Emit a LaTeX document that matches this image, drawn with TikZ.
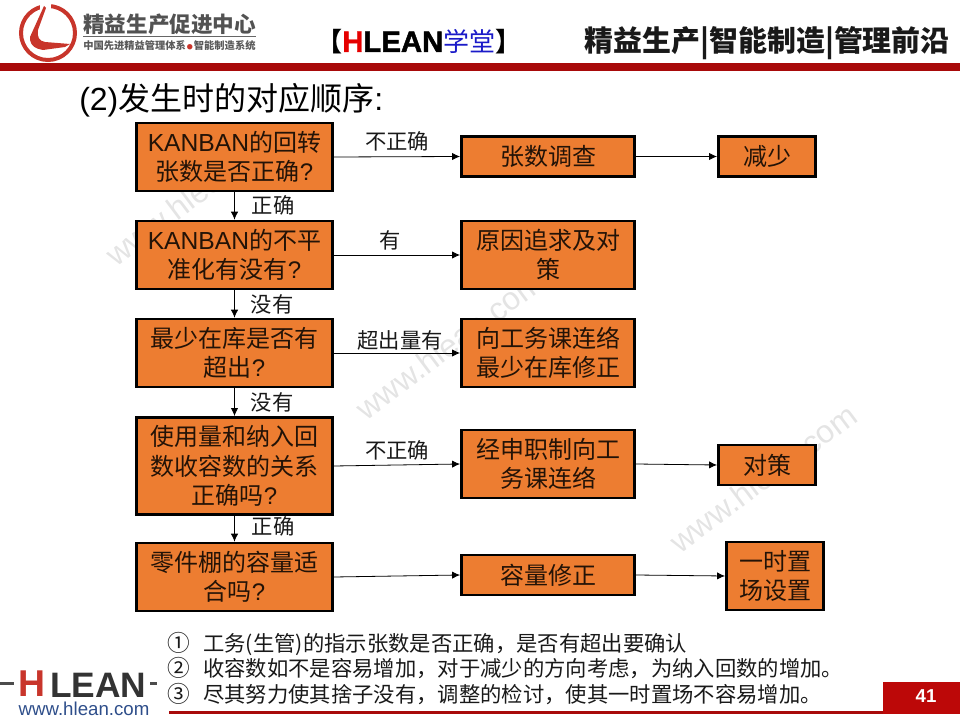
\documentclass[tikz,border=0pt]{standalone}
\usepackage{fontspec}
\setmainfont{Liberation Sans}
\newfontfamily\cjk{Noto Sans CJK SC}
\newfontfamily\heavy[BoldFeatures={FakeBold=1.5}]{Liberation Sans}
\usetikzlibrary{arrows.meta}
\definecolor{boxfill}{HTML}{ED7D31}
\definecolor{barred}{HTML}{A80A0A}
\definecolor{pagered}{HTML}{BC0808}
\definecolor{logored}{HTML}{C8352B}
\definecolor{wm}{HTML}{E4E4E4}
\definecolor{bluetxt}{HTML}{1A1AC8}
\definecolor{webblue}{HTML}{2E4E8A}
\newcommand{\kb}{{\fontsize{18.5}{22}\selectfont KANBAN}}
\newcommand{\circno}[1]{\makebox[27pt][l]{\fontsize{17}{18}\selectfont #1}}
\tikzset{
  flowbox/.style={draw=black,line width=1.9pt,fill=boxfill,minimum width=147pt,align=center,inner sep=0pt,font=\fontsize{18}{22}\selectfont,text=black!85!boxfill},
  flowside/.style={draw=black,line width=1.9pt,fill=boxfill,align=center,inner sep=0pt,font=\fontsize{18}{22}\selectfont,text=black!85!boxfill},
  link/.style={draw=black,line width=0.6pt,-{Latex[length=6pt,width=5.5pt]}},
  lbl/.style={inner sep=0pt,font=\cjk\fontsize{16}{18}\selectfont,text=black!90},
  note/.style={inner sep=0pt,anchor=west,font=\cjk\fontsize{16}{18}\selectfont,text=black!90},
  wmk/.style={inner sep=0pt,rotate=36.8,text=wm,font=\fontsize{24}{28}\selectfont}
}
\begin{document}
\begin{tikzpicture}[x=0.75pt,y=-0.75pt]
\useasboundingbox (0,0) rectangle (960,720);
% watermarks
\node[wmk] (wa) at (199,191) {www.hlean.com};
\node[wmk] (wb) at (449,345) {www.hlean.com};
\node[wmk] (wc) at (763,478) {www.hlean.com};
% header
\fill[barred] (0,63) rectangle (960,71);
\node[inner sep=0pt,anchor=west,font=\cjk\bfseries\fontsize{16.2}{18}\selectfont,text=black!68] (brand) at (83,24) {精益生产促进中心};
\draw[black!60,line width=0.5pt] (83,36) -- (256,36);
\node[inner sep=0pt,anchor=west,font=\cjk\bfseries\fontsize{7.7}{9}\selectfont,text=black!65] (slogan) at (83,46) {中国先进精益管理体系{\color{logored}\fontsize{4.5}{5}\selectfont\,●\,}智能制造系统};
\draw[logored,line width=3pt] (48,33) circle (27);
\fill[white] (40,0) rectangle (51,10);
\fill[logored] (44,6) -- (46,8) -- (38,30) .. controls (37,37) and (39,41) .. (45,42) -- (70,44) -- (65,47) -- (43,50) .. controls (36,49) and (31,46) .. (30,40) -- (30,37) -- cycle;
\node[inner sep=0pt,anchor=west,font=\cjk\bfseries\fontsize{19.5}{22}\selectfont] (hl) at (316,42) {【{\heavy\bfseries\fontsize{22}{22}\selectfont\textcolor{red!90!black}{H}LEAN}\textcolor{bluetxt}{\mdseries 学堂}】};
\node[inner sep=0pt,anchor=east,font=\cjk\bfseries\fontsize{21.7}{24}\selectfont,text=black!90] (tag) at (950,43) {精益生产|智能制造|管理前沿};
\node[inner sep=0pt,anchor=west,font=\fontsize{24}{28}\selectfont] (title) at (79,100) {(2){\cjk 发生时的对应顺序}:};
% left column
\node[flowbox,minimum height=51pt] (a1) at (234.5,157) {\kb{\cjk 的回转}\\{\cjk 张数是否正确}?};
\node[flowbox,minimum height=51pt] (a2) at (234.5,255) {\kb{\cjk 的不平}\\{\cjk 准化有没有}?};
\node[flowbox,minimum height=51pt] (a3) at (234.5,353) {{\cjk 最少在库是否有}\\{\cjk 超出}?};
\node[flowbox,minimum height=73pt] (a4) at (234.5,466) {{\cjk 使用量和纳入回}\\{\cjk 数收容数的关系}\\{\cjk 正确吗}?};
\node[flowbox,minimum height=51pt] (a5) at (234.5,577) {{\cjk 零件棚的容量适}\\{\cjk 合吗}?};
% middle column
\node[flowside,minimum width=130pt,minimum height=30pt] (b1) at (548,156.5) {\cjk 张数调查};
\node[flowside,minimum width=130pt,minimum height=51pt] (b2) at (548,255) {\cjk 原因追求及对\\\cjk 策};
\node[flowside,minimum width=130pt,minimum height=51pt] (b3) at (548,353) {\cjk 向工务课连络\\\cjk 最少在库修正};
\node[flowside,minimum width=130pt,minimum height=51pt] (b4) at (548,464) {\cjk 经申职制向工\\\cjk 务课连络};
\node[flowside,minimum width=130pt,minimum height=30pt] (b5) at (548,575) {\cjk 容量修正};
% right column
\node[flowside,minimum width=73pt,minimum height=30pt] (c1) at (767,156.5) {\cjk 减少};
\node[flowside,minimum width=73pt,minimum height=30pt] (c4) at (767,465) {\cjk 对策};
\node[flowside,minimum width=73pt,minimum height=51pt] (c5) at (775,576) {\cjk 一时置\\\cjk 场设置};
% connectors
\draw[link] (a1.south) -- (a2.north);
\draw[link] (a2.south) -- (a3.north);
\draw[link] (a3.south) -- (a4.north);
\draw[link] (a4.south) -- (a5.north);
\draw[link] (a1.east) -- (b1.west);
\draw[link] (a2.east) -- (b2.west);
\draw[link] (a3.east) -- (b3.west);
\draw[link] (a4.east) -- (b4.west);
\draw[link] (a5.east) -- (b5.west);
\draw[link] (b1.east) -- (c1.west);
\draw[link] (b4.east) -- (c4.west);
\draw[link] (b5.east) -- (c5.west);
% labels
\node[lbl] (l1) at (397,141) {不正确};
\node[lbl] (l2) at (273,205) {正确};
\node[lbl] (l3) at (390,240) {有};
\node[lbl] (l4) at (272,304) {没有};
\node[lbl] (l5) at (400,340) {超出量有};
\node[lbl] (l6) at (272,402) {没有};
\node[lbl] (l7) at (397,450) {不正确};
\node[lbl] (l8) at (273,526) {正确};
% notes
\node[note] (n1) at (167,643.5) {\circno{①}工务(生管)的指示张数是否正确，是否有超出要确认};
\node[note] (n2) at (167,668) {\circno{②}收容数如不是容易增加，对于减少的方向考虑，为纳入回数的增加。};
\node[note] (n3) at (167,694.5) {\circno{③}尽其努力使其捨子没有，调整的检讨，使其一时置场不容易增加。};
% footer
\fill[barred] (169,711) rectangle (960,714);
\fill[pagered] (883,682) rectangle (960,714);
\node[inner sep=0pt,font=\bfseries\fontsize{14}{16}\selectfont,text=white] (pg) at (926,696) {41};
\fill[black!70] (0,682) rectangle (14,684.5);
\node[inner sep=0pt,anchor=west,font=\bfseries\fontsize{28}{30}\selectfont,text=logored] (hh) at (18,684) {H};
\node[inner sep=0pt,anchor=west,font=\bfseries\fontsize{26.5}{30}\selectfont,text=black!80] (ll) at (50,685) {LEAN};
\fill[black!70] (150,682) rectangle (157,684.5);
\node[inner sep=0pt,font=\fontsize{14}{16}\selectfont,text=webblue] (web) at (84,709) {www.hlean.com};
\end{tikzpicture}
\end{document}
